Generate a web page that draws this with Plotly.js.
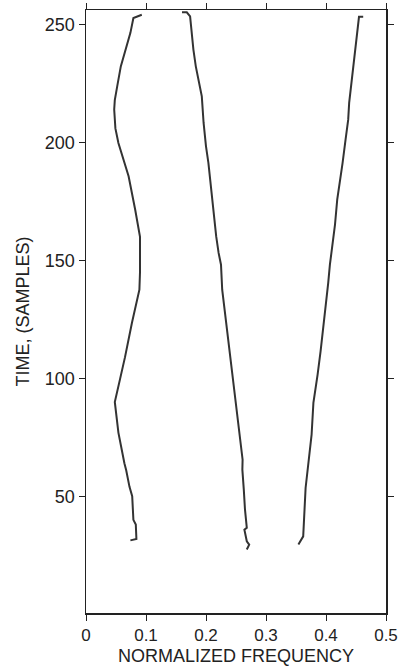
<!DOCTYPE html>
<html>
<head>
<meta charset="utf-8">
<script src="https://cdn.plot.ly/plotly-3.0.1.min.js"></script>
<style>html,body{margin:0;padding:0;background:#fff;}#chart{width:400px;height:666px;}</style>
</head>
<body>
<div id="chart"></div>
<script>
// Curve 1 (left)
var time1 = [31.3, 31.9, 38, 40, 50, 54, 61, 64, 77, 90, 100, 109, 123.5, 133.4, 137.6, 145, 160, 171.5, 185.7, 199.8, 206, 214, 218, 223.8, 232.3, 246.5, 252.8, 254.2];
var freq1 = [0.074, 0.084, 0.083, 0.079, 0.077, 0.0725, 0.067, 0.064, 0.054, 0.048, 0.057, 0.065, 0.0765, 0.085, 0.089, 0.090, 0.090, 0.082, 0.071, 0.054, 0.049, 0.047, 0.048, 0.052, 0.058, 0.074, 0.079, 0.093];
// Curve 2 (middle)
var time2 = [27.4, 29.5, 30.9, 35.8, 36.6, 44.3, 52.8, 57.1, 61.3, 65.5, 74.0, 85.3, 100.8, 112.2, 126.3, 137.6, 148.2, 153.2, 160.2, 172.3, 181.4, 191.4, 198.4, 208.3, 219.6, 226.7, 232.3, 239.4, 249.3, 253.5, 255.2, 255.2];
var freq2 = [0.268, 0.272, 0.268, 0.264, 0.268, 0.265, 0.263, 0.262, 0.2606, 0.261, 0.257, 0.251, 0.244, 0.239, 0.232, 0.227, 0.225, 0.221, 0.217, 0.212, 0.2085, 0.204, 0.200, 0.196, 0.193, 0.187, 0.183, 0.179, 0.176, 0.1735, 0.168, 0.160];
// Curve 3 (right)
var time3 = [29.5, 31.6, 33, 53.5, 59.9, 67, 76.1, 89.6, 96, 101.6, 111.5, 120, 131.3, 140.5, 148.2, 155.3, 165.2, 175.8, 182.9, 191.3, 201.2, 209.7, 216.8, 225.3, 235.2, 247.9, 253.3, 253.3];
var freq3 = [0.354, 0.358, 0.362, 0.366, 0.369, 0.372, 0.376, 0.379, 0.383, 0.386, 0.391, 0.395, 0.3993, 0.4037, 0.4065, 0.410, 0.415, 0.4187, 0.423, 0.4276, 0.4326, 0.437, 0.4386, 0.4425, 0.4465, 0.452, 0.455, 0.462];

var xTicks = [0, 0.1, 0.2, 0.3, 0.4, 0.5];
var xTickText = ['0', '0.1', '0.2', '0.3', '0.4', '0.5'];
var yTicks = [50, 100, 150, 200, 250];
var yTickText = ['50', '100', '150', '200', '250'];

var lineStyle = {color: '#333333', width: 2};
var traces = [
  {x: freq1, y: time1, mode: 'lines', line: lineStyle, hoverinfo: 'skip'},
  {x: freq2, y: time2, mode: 'lines', line: lineStyle, hoverinfo: 'skip'},
  {x: freq3, y: time3, mode: 'lines', line: lineStyle, hoverinfo: 'skip'}
];

var fam = 'Liberation Sans, Arial, sans-serif';
var layout = {
  width: 400, height: 666,
  margin: {l: 86, r: 14, t: 10, b: 53, pad: 0},
  paper_bgcolor: '#fff', plot_bgcolor: '#fff',
  showlegend: false,
  font: {family: fam, size: 17, color: '#222'},
  xaxis: {
    range: [0, 0.5], tickvals: xTicks, ticktext: xTickText,
    showgrid: false, zeroline: false,
    showline: true, linecolor: '#222', linewidth: 1.5, mirror: 'ticks',
    ticks: 'outside', ticklen: 6, tickwidth: 1, tickcolor: '#222',
    tickfont: {family: fam, size: 17, color: '#222'},
    title: {text: 'NORMALIZED FREQUENCY', font: {family: fam, size: 18, color: '#222'}, standoff: 5},
    automargin: false
  },
  yaxis: {
    range: [0.5, 256.2], tickvals: yTicks, ticktext: yTickText,
    showgrid: false, zeroline: false,
    showline: true, linecolor: '#222', linewidth: 1.5, mirror: 'ticks',
    ticks: 'outside', ticklen: 6, tickwidth: 1, tickcolor: '#222',
    tickfont: {family: fam, size: 18, color: '#222'},
    title: {text: 'TIME, (SAMPLES)', font: {family: fam, size: 18, color: '#222'}, standoff: 10},
    automargin: false
  }
};

Plotly.newPlot('chart', traces, layout, {displayModeBar: false, staticPlot: true});
</script>
</body>
</html>
